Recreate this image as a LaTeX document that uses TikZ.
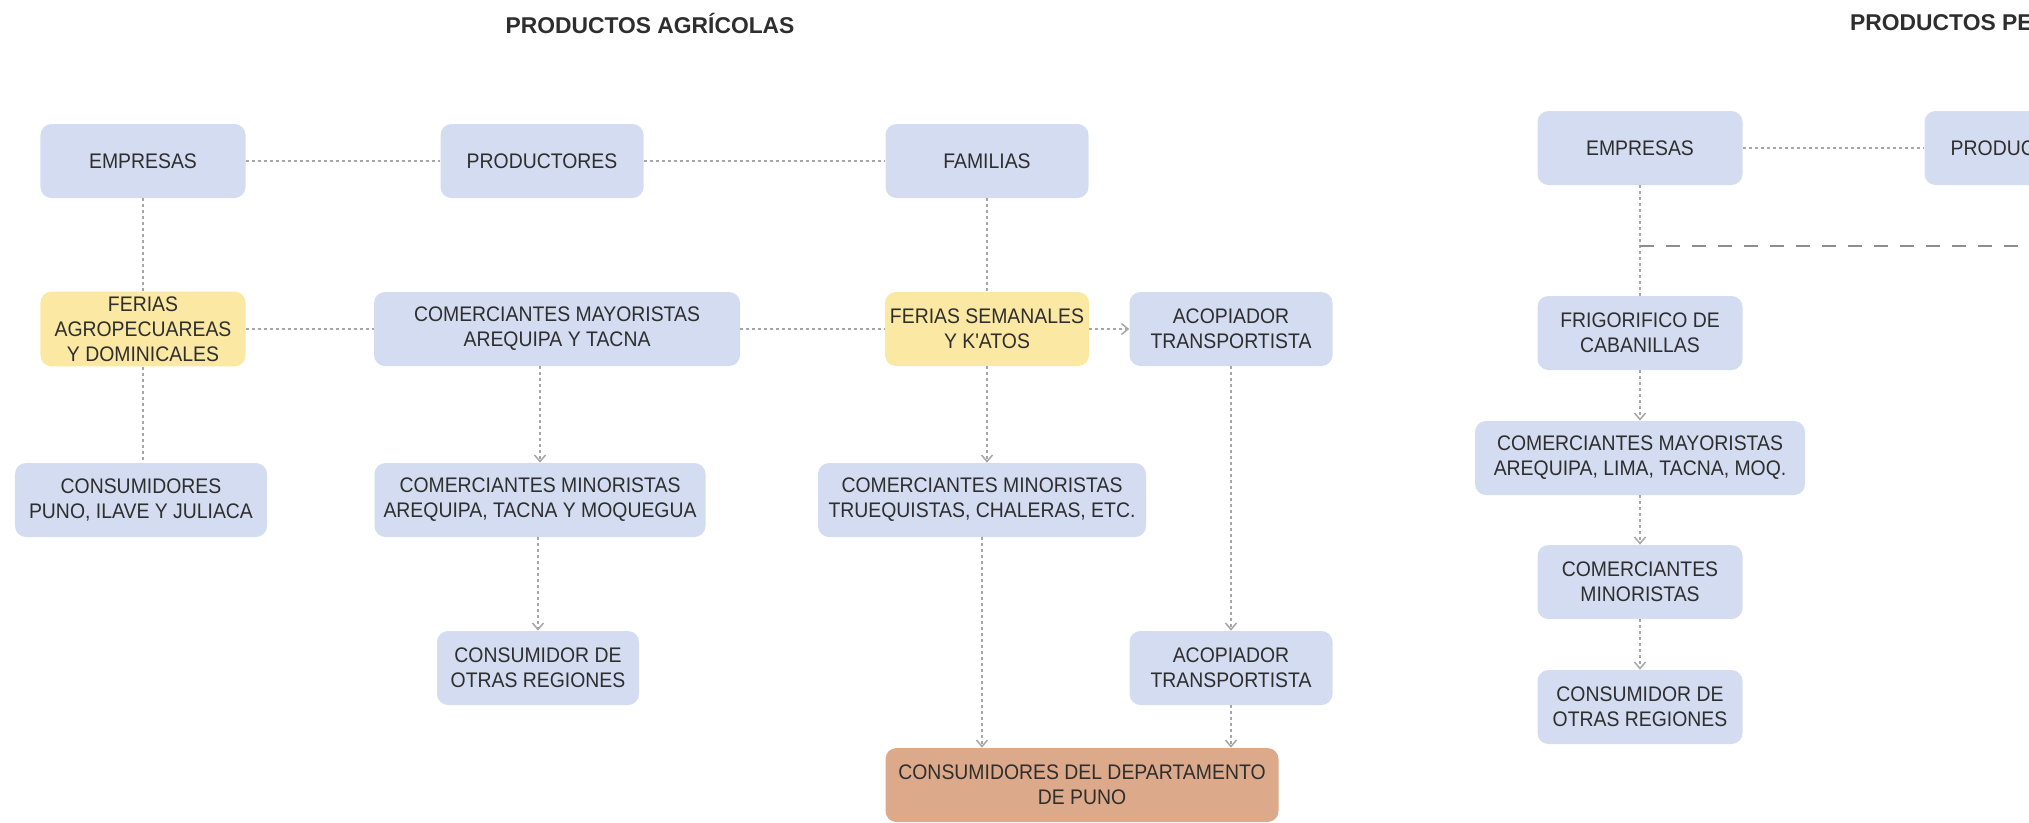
\documentclass[tikz,border=0pt]{standalone}
\usepackage{fontspec}
\setmainfont{Liberation Sans}
\newfontfamily\boxfont{Liberation Sans}[FakeStretch=0.92]
\usetikzlibrary{arrows.meta,positioning}
\definecolor{BoxBlue}{HTML}{D3DCF0}
\definecolor{BoxYellow}{HTML}{FBE8A3}
\definecolor{BoxOrange}{HTML}{DDA98B}
\definecolor{Dark}{HTML}{2E2E2E}
\definecolor{LineGray}{HTML}{A6A6A6}
\definecolor{DashGray}{HTML}{8E8E8E}
\tikzset{
  title/.style={font=\fontsize{13}{15}\selectfont\bfseries,text=Dark},
  box/.style={rounded corners=2.2mm,minimum height=14.8mm,inner sep=1mm,align=center,font=\boxfont\fontsize{12}{14.2}\selectfont,text=Dark},
  boxB/.style={box,fill=BoxBlue},
  boxY/.style={box,fill=BoxYellow},
  boxO/.style={box,fill=BoxOrange},
  link/.style={draw=LineGray,line width=0.3mm,dash pattern=on 0.6mm off 0.6mm},
  flecha/.style={link,-{Straight Barb[length=1.3mm,width=2.2mm]}},
  tramo/.style={draw=DashGray,line width=0.4mm,dash pattern=on 2.8mm off 2.4mm},
}

\begin{document}
\begin{tikzpicture}[x=0.2mm,y=-0.2mm,line cap=butt]

% Canvas (pixel grid of the reference, y downwards)
\useasboundingbox (0,0) rectangle (2029,822);
\clip (0,0) rectangle (2029,822);

% Titles
\node[title] (tagri) at (650,23) {PRODUCTOS AGRÍCOLAS};
\node[title,anchor=west] (tpec) at (1844,23) {PRODUCTOS PECUARIOS};

% Agricultural chain, first row
\node[boxB,minimum width=41mm]   (emp)  at (143,161) {EMPRESAS};
\node[boxB,minimum width=40.6mm] (prod) at (542,161) {PRODUCTORES};
\node[boxB,minimum width=40.6mm] (fam)  at (987,161) {FAMILIAS};

% Second row
\node[boxY,minimum width=41mm]   (feriasA) at (143,329) {FERIAS\\AGROPECUAREAS\\Y DOMINICALES};
\node[boxB,minimum width=73.2mm] (mayor)   at (557,329) {COMERCIANTES MAYORISTAS\\AREQUIPA Y TACNA};
\node[boxY,minimum width=40.6mm] (feriasS) at (987,329) {FERIAS SEMANALES\\Y K'ATOS};
\node[boxB,minimum width=40.6mm] (acop)    at (1231,329) {ACOPIADOR\\TRANSPORTISTA};

% Third row
\node[boxB,minimum width=50.4mm] (cons) at (141,500) {CONSUMIDORES\\PUNO, ILAVE Y JULIACA};
\node[boxB,minimum width=66.2mm] (minA) at (540,500) {COMERCIANTES MINORISTAS\\AREQUIPA, TACNA Y MOQUEGUA};
\node[boxB,minimum width=65.6mm] (minT) at (982,500) {COMERCIANTES MINORISTAS\\TRUEQUISTAS, CHALERAS, ETC.};

% Fourth and fifth rows
\node[boxB,minimum width=40.4mm] (otras) at (538,668) {CONSUMIDOR DE\\OTRAS REGIONES};
\node[boxB,minimum width=40.6mm] (acop2) at (1231,668) {ACOPIADOR\\TRANSPORTISTA};
\node[boxO,minimum width=78.6mm] (puno)  at (1082,785) {CONSUMIDORES DEL DEPARTAMENTO\\DE PUNO};

% Livestock chain
\node[boxB,minimum width=41mm]   (emp2)  at (1640,148) {EMPRESAS};
\node[boxB,minimum width=40.6mm] (prod2) at (2026,148) {PRODUCTORES};
\node[boxB,minimum width=41mm]   (frig)  at (1640,333) {FRIGORIFICO DE\\CABANILLAS};
\node[boxB,minimum width=66mm]   (may2)  at (1640,458) {COMERCIANTES MAYORISTAS\\AREQUIPA, LIMA, TACNA, MOQ.};
\node[boxB,minimum width=41mm]   (min2)  at (1640,582) {COMERCIANTES\\MINORISTAS};
\node[boxB,minimum width=41mm]   (otr2)  at (1640,707) {CONSUMIDOR DE\\OTRAS REGIONES};
\coordinate (junta) at (1640,246);
\coordinate (juntaR) at (2040,246);

% Plain links
\draw[link] (emp) -- (prod);
\draw[link] (prod) -- (fam);
\draw[link] (emp) -- (feriasA);
\draw[link] (feriasA.south) -- (feriasA.south |- cons.north);
\draw[link] (feriasA) -- (mayor);
\draw[link] (mayor) -- (feriasS);
\draw[link] (fam) -- (feriasS);
\draw[link] (emp2) -- (prod2);
\draw[link] (emp2) -- (frig);
\draw[tramo] (junta) -- (juntaR);

% Arrows
\draw[flecha] (feriasS) -- (acop);
\draw[flecha] (minA.north |- mayor.south) -- (minA.north);
\draw[flecha] (minA.south -| otras.north) -- (otras.north);
\draw[flecha] (feriasS.south) -- (feriasS.south |- minT.north);
\draw[flecha] (minT.south) -- (minT.south |- puno.north);
\draw[flecha] (acop) -- (acop2);
\draw[flecha] (acop2) -- (acop2.south |- puno.north);
\draw[flecha] (frig) -- (may2);
\draw[flecha] (may2) -- (min2);
\draw[flecha] (min2) -- (otr2);

\end{tikzpicture}
\end{document}
